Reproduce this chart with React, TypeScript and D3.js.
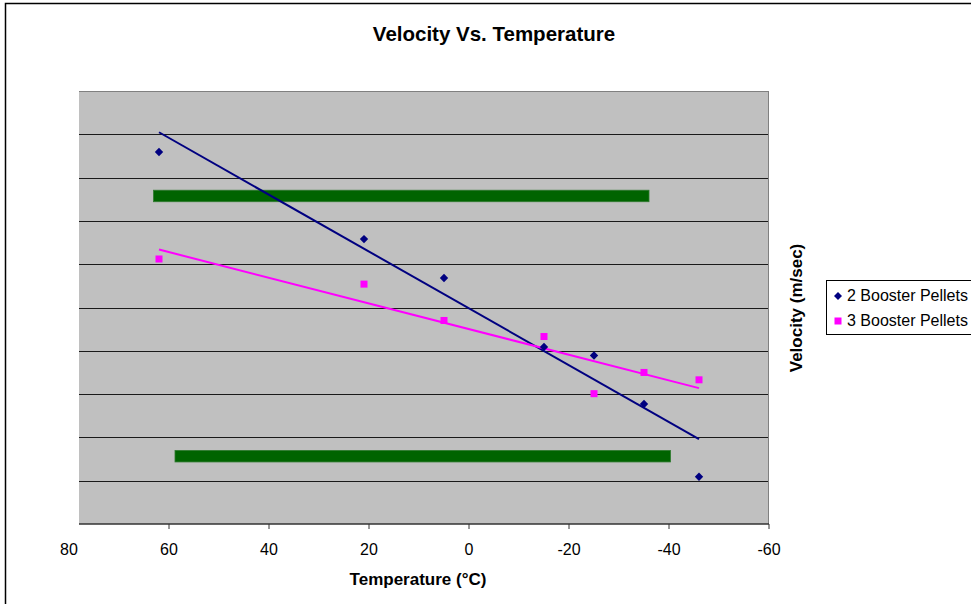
import * as d3 from "d3";

// temperatures (°C)
const temps = [62, 21, 5, -15, -25, -35, -46];
// velocity readings (no y tick labels in the original, arbitrary 0-100 scale)
const twoPellets = [85.9, 65.8, 56.8, 40.9, 38.9, 27.7, 10.9];
const threePellets = [61.2, 55.4, 47.0, 43.3, 30.1, 35.0, 33.3];
// the two thick green limit lines
const limitStarts = [63.1, 58.8];
const limitEnds = [-36, -40.3];
const limitValues = [75.7, 15.6];
const xTicks = [80, 60, 40, 20, 0, -20, -40, -60];
const yGrid = [10, 20, 30, 40, 50, 60, 70, 80, 90];
const seriesNames = ["2 Booster Pellets", "3 Booster Pellets"];

const font = "'Liberation Sans', Arial, sans-serif";

// least squares fit
const fit = (xs: number[], ys: number[]) => {
  const mx = d3.mean(xs) as number;
  const my = d3.mean(ys) as number;
  const sxy = d3.sum(xs, (x, i) => (x - mx) * (ys[i] - my));
  const sxx = d3.sum(xs, (x) => (x - mx) * (x - mx));
  const b = sxy / sxx;
  return (x: number) => my + b * (x - mx);
};

// square rotated 45deg, like Excel's diamond marker
const diamondPath = (r: number) => `M0,${-r}L${r},0L0,${r}L${-r},0Z`;

const App = () => {
  const width = 971, height = 604;
  const plot = { left: 79, right: 768, top: 91, bottom: 524 };

  const x = d3.scaleLinear().domain([80, -60]).range([69, 769]);
  const y = d3.scaleLinear().domain([0, 100]).range([plot.bottom, plot.top]);

  const tMin = d3.min(temps) as number;
  const tMax = d3.max(temps) as number;
  const fitBlue = fit(temps, twoPellets);
  const fitPink = fit(temps, threePellets);
  const line = d3.line<number>().x((t) => x(t));

  return (
    <svg width={width} height={height} style={{ position: "absolute", left: 0, top: 0 }} fontFamily={font}>
      <rect x={0} y={0} width={width} height={height} fill="#fff" />
      <rect x={5.5} y={3.5} width={1000} height={700} fill="none" stroke="#000" strokeWidth={1.5} />

      <text x={494} y={41} textAnchor="middle" fontSize={20.5} fontWeight="bold">Velocity Vs. Temperature</text>

      {/* plot area */}
      <rect x={plot.left} y={plot.top} width={plot.right - plot.left} height={plot.bottom - plot.top} fill="#c0c0c0" />
      <line x1={plot.left} x2={plot.right} y1={plot.top + 0.5} y2={plot.top + 0.5} stroke="#808080" />
      <line x1={plot.right + 0.5} x2={plot.right + 0.5} y1={plot.top} y2={plot.bottom} stroke="#808080" />
      {yGrid.map((v) => (
        <line key={v} x1={plot.left} x2={plot.right} y1={Math.round(y(v)) + 0.5} y2={Math.round(y(v)) + 0.5} stroke="#1a1a1a" />
      ))}

      {/* limit lines */}
      {limitValues.map((v, i) => (
        <rect key={i} x={x(limitStarts[i])} y={y(v) - 6} width={x(limitEnds[i]) - x(limitStarts[i])} height={11.5}
          fill="#006400" stroke="#2f7a2f" strokeWidth={0.8} />
      ))}

      {/* trend lines */}
      <path d={line.y((t) => y(fitBlue(t)))([tMax, tMin]) as string} stroke="#000080" strokeWidth={2} fill="none" />
      <path d={line.y((t) => y(fitPink(t)))([tMax, tMin]) as string} stroke="#ff00ff" strokeWidth={2} fill="none" />

      {/* points */}
      {temps.map((t, i) => (
        <path key={"b" + i} d={diamondPath(4.2)} transform={`translate(${x(t)},${y(twoPellets[i])})`} fill="#000080" />
      ))}
      {temps.map((t, i) => (
        <rect key={"p" + i} x={x(t) - 3.5} y={y(threePellets[i]) - 3.5} width={7} height={7} fill="#ff00ff" />
      ))}

      {/* x axis */}
      <line x1={plot.left} x2={plot.right + 1} y1={plot.bottom} y2={plot.bottom} stroke="#333" strokeWidth={1.5} />
      {xTicks.map((t) => (
        <g key={t}>
          {x(t) > plot.left && <line x1={x(t)} x2={x(t)} y1={plot.bottom} y2={plot.bottom + 5} stroke="#333" />}
          <text x={x(t)} y={555} textAnchor="middle" fontSize={16}>{t}</text>
        </g>
      ))}
      <text x={418} y={585} textAnchor="middle" fontSize={17} fontWeight="bold">Temperature (°C)</text>
      <text transform="translate(802,308) rotate(-90)" textAnchor="middle" fontSize={17} fontWeight="bold">Velocity (m/sec)</text>

      {/* legend */}
      <rect x={826.5} y={280.5} width={200} height={54} fill="#fff" stroke="#000" />
      <path d={diamondPath(4)} transform="translate(838,296)" fill="#000080" />
      <text x={847} y={301} fontSize={16}>{seriesNames[0]}</text>
      <rect x={834.5} y={317.5} width={7} height={7} fill="#ff00ff" />
      <text x={847} y={326} fontSize={16}>{seriesNames[1]}</text>
    </svg>
  );
};

export default App;
